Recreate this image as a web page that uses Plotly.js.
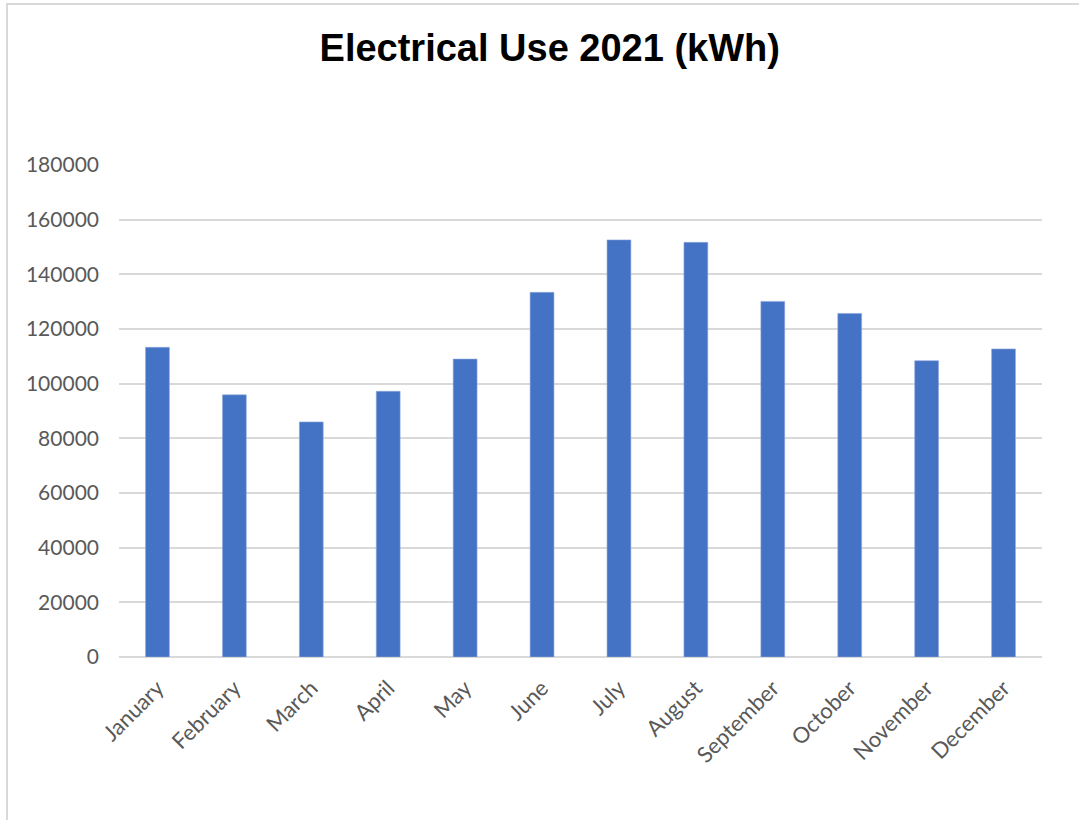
<!DOCTYPE html>
<html>
<head>
<meta charset="utf-8">
<script src="https://cdn.plot.ly/plotly-3.0.1.min.js"></script>
<style>
  html, body { margin: 0; padding: 0; background: #ffffff; }
  #wrap { position: relative; width: 1079px; height: 820px; }
  #chart { width: 1079px; height: 820px; }
  #frame { position: absolute; left: 6px; top: 3px; width: 1073px; height: 817px;
           border-left: 2px solid #d9d9d9; border-top: 2px solid #d9d9d9;
           box-sizing: border-box; pointer-events: none; }
</style>
</head>
<body>
<div id="wrap">
  <div id="chart"></div>
  <div id="frame"></div>
</div>
<script>
const months = ["January", "February", "March", "April", "May", "June",
                "July", "August", "September", "October", "November", "December"];
const usageKWh = [113300, 95900, 86000, 97200, 109000, 133400,
                  152600, 151700, 130100, 125700, 108400, 112700];
const yTickValues = [0, 20000, 40000, 60000, 80000, 100000, 120000, 140000, 160000, 180000];
const yTickLabels = ["0", "20000", "40000", "60000", "80000", "100000", "120000", "140000", "160000", "180000"];
const chartTitle = "Electrical Use 2021 (kWh)";

const trace = {
  type: "bar",
  x: months,
  y: usageKWh,
  marker: { color: "#4472C4", line: { color: "#8fa9dc", width: 0.6 } },
  hoverinfo: "x+y"
};

const yTickFont = { family: "Lato, 'Open Sans', sans-serif", size: 21, color: "#595959" };
const xTickFont = { family: "Lato, 'Open Sans', sans-serif", size: 22, color: "#595959" };

const layout = {
  width: 1079,
  height: 820,
  paper_bgcolor: "#ffffff",
  plot_bgcolor: "#ffffff",
  margin: { l: 119, r: 37, t: 165, b: 163 },
  bargap: 0.69,
  showlegend: false,
  title: {
    text: chartTitle,
    font: { family: "'Liberation Sans', Arial, sans-serif", size: 38, color: "#000000", weight: "bold" },
    x: 0.5095,
    xanchor: "center",
    xref: "container",
    y: 0.942,
    yanchor: "middle",
    yref: "container"
  },
  xaxis: {
    type: "category",
    tickangle: -45,
    tickfont: xTickFont,
    showgrid: false,
    showline: false,
    zeroline: false,
    ticks: "",
    ticklabelstandoff: 13,
    fixedrange: true
  },
  yaxis: {
    range: [0, 180000],
    tickmode: "array",
    tickvals: yTickValues,
    ticktext: yTickLabels,
    tickfont: yTickFont,
    showgrid: true,
    gridcolor: "#d9d9d9",
    gridwidth: 1.8,
    zeroline: true,
    zerolinecolor: "#d9d9d9",
    zerolinewidth: 1.8,
    showline: false,
    ticks: "",
    ticklabelstandoff: 19,
    fixedrange: true
  }
};

Plotly.newPlot("chart", [trace], layout, { displayModeBar: false, staticPlot: true });
</script>
</body>
</html>
